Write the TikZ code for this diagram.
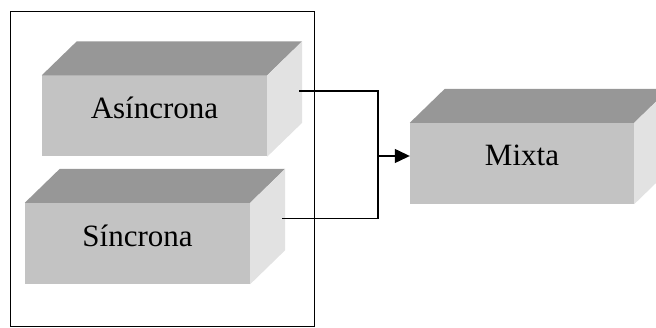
\documentclass[tikz,border=0pt]{standalone}
\usepackage{fontspec}
\setmainfont{Liberation Serif}
\usetikzlibrary{calc,arrows.meta}
\definecolor{frente}{HTML}{C3C3C3}
\definecolor{tapa}{HTML}{979797}
\definecolor{lado}{HTML}{E2E2E2}
\begin{document}
\begin{tikzpicture}[x=1pt,y=1pt]
 \tikzset{
  caja/.style={fill=frente, minimum width=225pt, minimum height=81pt, inner sep=0pt,
               text depth=16pt, font=\fontsize{31}{36}\selectfont},
  con/.style={line width=1.2pt},
 }
 \def\dx{35}
 \def\dy{34}

 \useasboundingbox (0,0) rectangle (656,327);
 \draw [line width=1pt] (10,1) rectangle (314,315);

 \node [caja] (asin) at (154.5,211) {As\'incrona};
 \node [caja] (sinc) at (137.5,83.5) {S\'incrona};
 \node [caja, minimum width=224pt] (mixta) at (522,163.5) {Mixta};

 % tapa y lado de cada caja
 \foreach \n in {asin,sinc,mixta} {
  \fill [tapa] (\n.north west) -- ++(\dx,\dy) -- ($(\n.north east)+(\dx,\dy)$) -- (\n.north east) -- cycle;
  \fill [lado] (\n.north east) -- ++(\dx,\dy) -- ($(\n.south east)+(\dx,\dy)$) -- (\n.south east) -- cycle;
 }

 \coordinate (asinsal) at ($(asin.east)+(32,25)$);
 \coordinate (sincsal) at ($(sinc.east)+(32,25)$);
 \coordinate (union) at (378,171);

 \foreach \src in {asinsal,sincsal}
  { \draw [con] (\src) -| (union); }
 \draw [con, -{Triangle[length=15pt,width=14pt]}] (union) -- (union -| mixta.west);
\end{tikzpicture}
\end{document}
